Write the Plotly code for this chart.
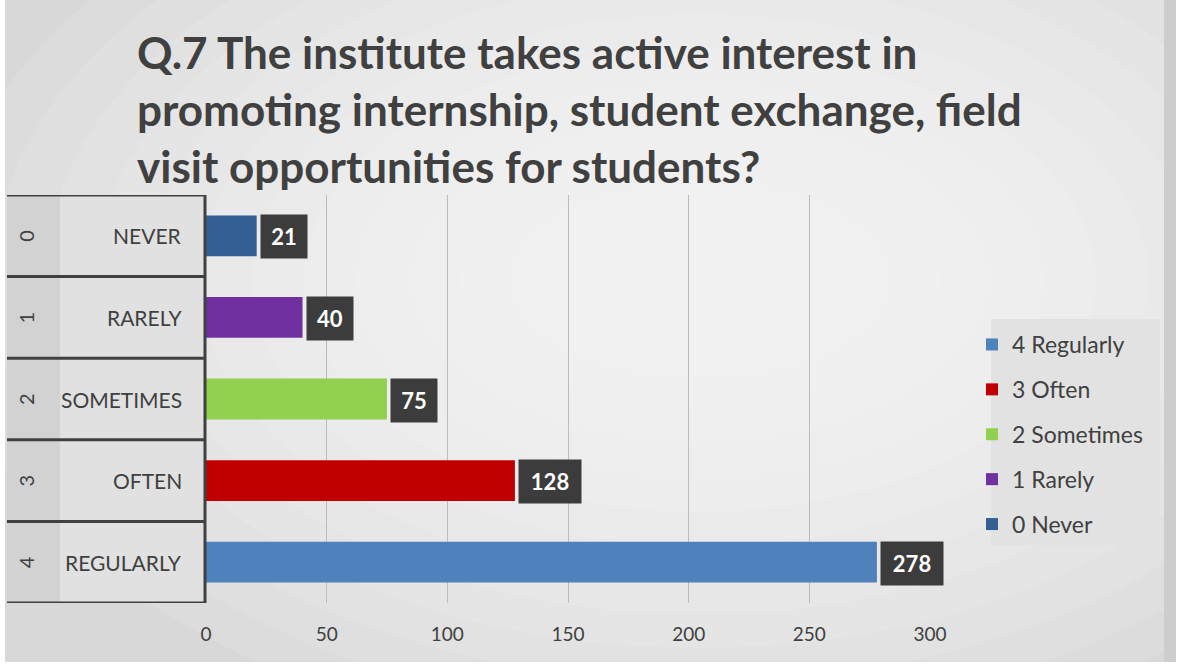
import plotly.graph_objects as go

# ---- data ----
levels = [0, 1, 2, 3, 4]
categories = ["NEVER", "RARELY", "SOMETIMES", "OFTEN", "REGULARLY"]
series_names = ["0 Never", "1 Rarely", "2 Sometimes", "3 Often", "4 Regularly"]
values = [21, 40, 75, 128, 278]
colors = ["#335F95", "#7030A0", "#92D050", "#C00000", "#4F81BD"]
x_ticks = [0, 50, 100, 150, 200, 250, 300]
title_lines = ["Q.7 The institute takes active interest in",
               "promoting internship, student exchange, field",
               "visit opportunities for students?"]

W, H = 1182, 665
PL, PR, PT, PB = 206, 930, 195, 603


def px_x(p):
    return (p - PL) / (PR - PL)


def px_y(p):
    return (PB - p) / (PB - PT)


fig = go.Figure()

# traces: legend order Regularly -> Never
for i in reversed(range(len(values))):
    fig.add_trace(go.Bar(
        x=[values[i]], y=[levels[i]], orientation="h",
        name=series_names[i], marker=dict(color=colors[i], line=dict(width=0)),
        width=0.5, legendgroup=series_names[i], hoverinfo="x+name",
    ))

shapes = []
# soft radial background
for k in range(12):
    rx = 760 - k * 52
    ry = 470 - k * 34
    cx, cy = 700, 280
    shapes.append(dict(type="circle", xref="paper", yref="paper", layer="below",
                       x0=px_x(cx - rx), x1=px_x(cx + rx), y0=px_y(cy + ry), y1=px_y(cy - ry),
                       fillcolor="rgba(255,255,255,0.10)", line=dict(width=0)))
# edge strips
shapes.append(dict(type="rect", xref="paper", yref="paper", layer="below",
                   x0=px_x(1164), x1=px_x(1176), y0=px_y(H), y1=px_y(0),
                   fillcolor="#cdcdcd", line=dict(width=0)))
shapes.append(dict(type="rect", xref="paper", yref="paper", layer="below",
                   x0=px_x(1176), x1=px_x(1182), y0=px_y(H), y1=px_y(0),
                   fillcolor="#ffffff", line=dict(width=0)))
shapes.append(dict(type="rect", xref="paper", yref="paper", layer="below",
                   x0=px_x(0), x1=px_x(5), y0=px_y(H), y1=px_y(0),
                   fillcolor="#ffffff", line=dict(width=0)))
shapes.append(dict(type="rect", xref="paper", yref="paper", layer="below",
                   x0=px_x(0), x1=px_x(1182), y0=px_y(H), y1=px_y(662),
                   fillcolor="#ffffff", line=dict(width=0)))
# legend box
shapes.append(dict(type="rect", xref="paper", yref="paper", layer="below",
                   x0=px_x(991), x1=px_x(1160), y0=px_y(545), y1=px_y(319),
                   fillcolor="#e2e2e2", line=dict(width=0)))

annotations = []
# title lines
for j, line in enumerate(title_lines):
    annotations.append(dict(xref="paper", yref="paper", x=px_x(135), y=px_y(52 + 57 * j),
                            text="<b>" + line + "</b>", xanchor="left", yanchor="middle",
                            showarrow=False,
                            font=dict(family="Lato", size=44, color="#404040")))

# multi-level category boxes
for lv, cat in zip(levels, categories):
    shapes.append(dict(type="rect", xref="paper", yref="y", layer="below",
                       x0=px_x(7), x1=px_x(60), y0=lv - 0.5, y1=lv + 0.5,
                       fillcolor="#d2d2d2", line=dict(width=0)))
    shapes.append(dict(type="rect", xref="paper", yref="y", layer="below",
                       x0=px_x(60), x1=px_x(205), y0=lv - 0.5, y1=lv + 0.5,
                       fillcolor="#e1e1e1", line=dict(width=0)))
    shapes.append(dict(type="line", xref="paper", yref="y",
                       x0=px_x(7), x1=px_x(205), y0=lv - 0.5, y1=lv - 0.5,
                       line=dict(color="#404040", width=3)))
    annotations.append(dict(xref="paper", yref="y", x=px_x(184), y=lv, text=cat,
                            xanchor="right", yanchor="middle", showarrow=False,
                            font=dict(family="Lato", size=21, color="#404040")))
    annotations.append(dict(xref="paper", yref="y", x=px_x(26), y=lv, text=str(lv),
                            textangle=-90, xanchor="center", yanchor="middle", showarrow=False,
                            font=dict(family="Lato", size=20, color="#404040")))
shapes.append(dict(type="line", xref="paper", yref="y",
                   x0=px_x(7), x1=px_x(205), y0=levels[-1] + 0.5, y1=levels[-1] + 0.5,
                   line=dict(color="#404040", width=3)))
shapes.append(dict(type="line", xref="paper", yref="y",
                   x0=px_x(205), x1=px_x(205), y0=levels[0] - 0.5, y1=levels[-1] + 0.5,
                   line=dict(color="#404040", width=3)))

# data labels
for lv, v in zip(levels, values):
    annotations.append(dict(xref="x", yref="y", x=v, y=lv, text="<b>%d</b>" % v,
                            xanchor="left", yanchor="middle", xshift=3, yshift=-1,
                            showarrow=False, bgcolor="#3c3c3c",
                            width=12 + 16 * len(str(v)), height=41,
                            font=dict(family="Lato", size=22, color="#ffffff")))

fig.update_layout(
    width=W, height=H,
    margin=dict(l=PL, r=W - PR, t=PT, b=H - PB),
    paper_bgcolor="#d8d8d8", plot_bgcolor="rgba(0,0,0,0)",
    barmode="overlay",
    xaxis=dict(range=[0, 300], tickvals=x_ticks, showgrid=True, gridcolor="#bcbcbc",
               gridwidth=1, zeroline=False, showline=False, ticks="",
               tickfont=dict(family="Lato", size=19, color="#404040"), ticklabelstandoff=18),
    yaxis=dict(range=[levels[-1] + 0.5, levels[0] - 0.5], showticklabels=False,
               showgrid=False, zeroline=False, showline=False, ticks=""),
    legend=dict(x=px_x(972), y=px_y(323), xanchor="left", yanchor="top",
                bgcolor="rgba(0,0,0,0)", borderwidth=0, traceorder="grouped", tracegroupgap=12,
                font=dict(family="Lato", size=23, color="#404040"),
                itemwidth=30),
    shapes=shapes, annotations=annotations,
    showlegend=True,
)

fig.write_html("out.html", config={"displayModeBar": False},
               post_script="document.body.style.margin='0';")
